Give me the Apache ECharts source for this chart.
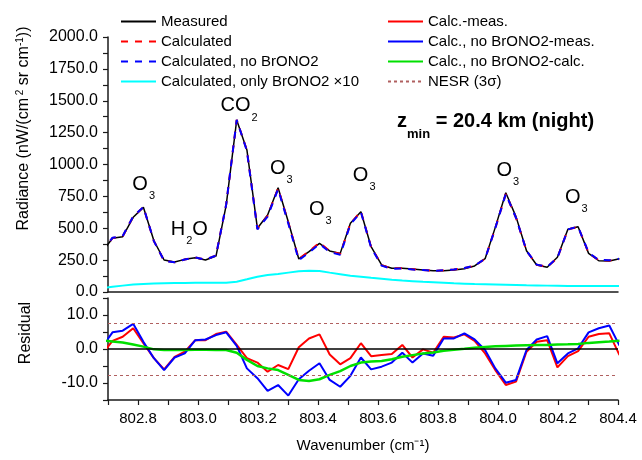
<!DOCTYPE html>
<html>
<head>
<meta charset="utf-8">
<script src="https://cdn.jsdelivr.net/npm/echarts@6/dist/echarts.min.js"></script>
<style>
    html, body { margin: 0; padding: 0; background: #fff; }
    #chart1 { width: 642px; height: 460px; }
</style>
</head>
<body>
<div id="chart1"></div>
<script>
// 光谱数据 (cm-1)
var wavenumber = [802.680, 802.715, 802.749, 802.784, 802.818, 802.853, 802.887, 802.922, 802.956, 802.991,
    803.025, 803.060, 803.094, 803.129, 803.163, 803.198, 803.232, 803.267, 803.301, 803.336,
    803.370, 803.405, 803.439, 803.474, 803.508, 803.543, 803.577, 803.612, 803.646, 803.681,
    803.715, 803.750, 803.784, 803.819, 803.853, 803.888, 803.922, 803.957, 803.991, 804.026,
    804.060, 804.095, 804.129, 804.164, 804.198, 804.233, 804.267, 804.302, 804.336, 804.371, 804.405]
var measured = [314, 421, 434, 586, 664, 402, 251, 235, 256, 269,
    251, 282, 682, 1349, 1114, 500, 604, 818, 551, 259,
    316, 382, 322, 303, 539, 630, 355, 212, 186, 186,
    180, 173, 167, 167, 173, 183, 204, 261, 507, 779,
    591, 324, 212, 194, 272, 492, 512, 303, 245, 243, 260]
var calculated = [312.5, 423.4, 437.6, 592.1, 665.7, 399.3, 245.0, 232.7, 255.2, 271.6,
    253.6, 286.4, 687.1, 1350.2, 1111.3, 496.0, 597.3, 813.3, 545.1, 259.5,
    319.1, 386.3, 320.4, 298.5, 536.3, 631.7, 352.9, 210.2, 184.5, 187.2,
    177.5, 172.9, 165.9, 170.6, 176.4, 187.3, 206.4, 259.7, 500.8, 768.4,
    581.4, 323.2, 214.1, 196.6, 266.6, 489.9, 511.4, 306.6, 249.4, 247.6, 258.2]
var calcNoBr = [314.6, 425.9, 439.4, 593.4, 666.1, 399.3, 244.8, 232.5, 254.7, 271.6,
    253.8, 286.1, 686.9, 1349.9, 1108.3, 491.4, 591.7, 807.4, 537.3, 250.1,
    309.6, 377.8, 312.9, 291.9, 531.1, 627.5, 349.0, 206.8, 182.0, 184.9,
    176.0, 171.7, 165.0, 170.1, 176.1, 187.6, 206.8, 260.7, 501.3, 769.1,
    581.9, 323.7, 214.8, 197.8, 267.8, 490.7, 512.2, 307.9, 251.1, 249.9, 261.0]
var onlyBrX10 = [30, 42, 50, 58, 63, 66, 68, 70, 71, 72,
    72, 73, 73, 81, 100, 120, 134, 141, 152, 162,
    167, 164, 152, 140, 128, 120, 112, 104, 96, 90,
    85, 80, 76, 72, 68, 65, 62, 60, 58, 56,
    54, 52, 51, 50, 49, 48, 48, 47, 47, 47, 47]
// 残差
var resCalcMeas = [-1.5, 2.4, 3.6, 6.1, 1.7, -2.7, -6.0, -2.3, -0.8, 2.6,
    2.6, 4.4, 5.1, 1.2, -2.7, -4.0, -6.7, -4.7, -5.9, 0.5,
    3.1, 4.3, -1.6, -4.5, -2.7, 1.7, -2.1, -1.8, -1.5, 1.2,
    -2.5, -0.1, -1.1, 3.6, 3.4, 4.3, 2.4, -1.3, -6.2, -10.6,
    -9.6, -0.8, 2.1, 2.6, -5.4, -2.1, -0.6, 3.6, 4.4, 4.6, -1.8]
var resNoBrMeas = [0.6, 4.9, 5.4, 7.4, 2.1, -2.7, -6.2, -2.5, -1.3, 2.6,
    2.8, 4.1, 4.9, 0.9, -5.7, -8.6, -12.3, -10.6, -13.7, -8.9,
    -6.4, -4.2, -9.1, -11.1, -7.9, -2.5, -6.0, -5.2, -4.0, -1.1,
    -4.0, -1.3, -2.0, 3.1, 3.1, 4.6, 2.8, -0.3, -5.7, -9.9,
    -9.1, -0.3, 2.8, 3.8, -4.2, -1.3, 0.2, 4.9, 6.1, 6.9, 1.0]
var resNoBrCalc = [2.6, 2.2, 1.9, 1.3, 0.7, -0.1, -0.3, -0.3, -0.3, -0.2,
    -0.2, -0.3, -0.3, -1.1, -3.2, -5.0, -5.7, -6.2, -7.6, -9.1,
    -9.4, -8.9, -7.6, -6.5, -5.0, -4.0, -3.7, -3.5, -3.0, -2.3,
    -1.8, -1.3, -1.0, -0.5, -0.2, 0.1, 0.4, 0.6, 0.8, 0.9,
    1.0, 1.1, 1.2, 1.2, 1.3, 1.4, 1.5, 1.8, 2.0, 2.2, 2.4]
var nesr3sigma = 7.7
// 刻度标签
var xTickLabels = ['802.8', '803.0', '803.2', '803.4', '803.6', '803.8', '804.0', '804.2', '804.4']
var radTickLabels = ['0.0', '250.0', '500.0', '750.0', '1000.0', '1250.0', '1500.0', '1750.0', '2000.0']
var resTickLabels = ['-10.0', '0.0', '10.0']
// 谱线标注
var bandLabels = [
    { text: '{m|O}{s|3}', x: 802.819, y: 847 },
    { text: '{m|H}{s|2}{m|O}', x: 802.971, y: 494 },
    { text: '{m|CO}{s|2}', x: 803.137, y: 1459 },
    { text: '{m|O}{s|3}', x: 803.278, y: 965 },
    { text: '{m|O}{s|3}', x: 803.408, y: 651 },
    { text: '{m|O}{s|3}', x: 803.554, y: 915 },
    { text: '{m|O}{s|3}', x: 804.033, y: 953 },
    { text: '{m|O}{s|3}', x: 804.261, y: 739 }
]

_initChart()

function pairs (ys) {
    return ys.map(function (v, i) { return [wavenumber[i], v] })
}

function _initChart () {
    var font = 'Liberation Sans, Arial, sans-serif'
    var myChart = echarts.init(document.getElementById('chart1'))
    var axisLine = { show: true, onZero: false, lineStyle: { color: '#1a1a1a', width: 1.5 } }
    var axisTick = { show: true, inside: false, length: 5, lineStyle: { color: '#1a1a1a', width: 1.2 } }
    var labelStyle = { color: '#000', fontSize: 15, fontFamily: font }
    var option = {
        animation: false,
        backgroundColor: '#fff',
        title: {
            left: 397,
            top: 109,
            padding: 0,
            text: '{z|z}{m|min}{b| = 20.4 km (night)}',
            textStyle: {
                rich: {
                    z: { fontSize: 20, fontWeight: 'bold', fontFamily: font, color: '#000', lineHeight: 24 },
                    m: { fontSize: 13, fontWeight: 'bold', fontFamily: font, color: '#000', lineHeight: 24, verticalAlign: 'top', padding: [19, 0, 0, 0] },
                    b: { fontSize: 20, fontWeight: 'bold', fontFamily: font, color: '#000', lineHeight: 24 }
                }
            }
        },
        legend: [{
            orient: 'vertical',
            left: 120,
            top: 14,
            padding: 0,
            itemWidth: 35,
            itemHeight: 14,
            itemGap: 5,
            itemStyle: { opacity: 0 },
            textStyle: labelStyle,
            data: ['Measured', 'Calculated', 'Calculated, no BrONO2', 'Calculated, only BrONO2 ×10']
        }, {
            orient: 'vertical',
            left: 387,
            top: 14,
            padding: 0,
            itemWidth: 35,
            itemHeight: 14,
            itemGap: 5,
            itemStyle: { opacity: 0 },
            textStyle: labelStyle,
            data: ['Calc.-meas.', 'Calc., no BrONO2-meas.', 'Calc., no BrONO2-calc.', 'NESR (3σ)']
        }],
        grid: [
            { left: 108, width: 510, top: 37, height: 255 },
            { left: 108, width: 510, top: 298, height: 102 }
        ],
        xAxis: [{
            type: 'value', gridIndex: 0, min: 802.7, max: 804.4, interval: 0.1,
            axisLine: axisLine, axisTick: { show: false }, axisLabel: { show: false }, splitLine: { show: false }
        }, {
            type: 'value', gridIndex: 1, min: 802.7, max: 804.4, interval: 0.1,
            name: 'Wavenumber (cm⁻¹)',
            nameLocation: 'middle',
            nameGap: 38,
            nameTextStyle: labelStyle,
            axisLine: axisLine, axisTick: axisTick, splitLine: { show: false },
            axisLabel: {
                margin: 11,
                color: '#000', fontSize: 15, fontFamily: font,
                formatter: function (v) {
                    var s = v.toFixed(1)
                    return xTickLabels.indexOf(s) >= 0 ? s : ''
                }
            }
        }],
        yAxis: [{
            type: 'value', gridIndex: 0, min: 0, max: 2000, interval: 125,
            name: '{a|Radiance (nW/(cm}{s| 2}{a| sr cm}{s|-1}{a|))}',
            nameLocation: 'middle',
            nameGap: 74,
            nameTextStyle: {
                padding: [0, 0, 0, 72],
                rich: {
                    a: { fontSize: 16, fontFamily: font, color: '#000', lineHeight: 20 },
                    s: { fontSize: 10, fontFamily: font, color: '#000', lineHeight: 20, verticalAlign: 'top', padding: [1, 0, 0, 0] }
                }
            },
            axisLine: axisLine, axisTick: axisTick, splitLine: { show: false },
            axisLabel: {
                margin: 10,
                color: '#000', fontSize: 16, fontFamily: font,
                formatter: function (v) {
                    var s = v.toFixed(1)
                    return radTickLabels.indexOf(s) >= 0 ? s : ''
                }
            }
        }, {
            type: 'value', gridIndex: 1, min: -15, max: 15, interval: 5,
            name: 'Residual',
            nameLocation: 'middle',
            nameGap: 74,
            nameTextStyle: { fontSize: 16, fontFamily: font, color: '#000', padding: [0, 0, 0, 32] },
            axisLine: axisLine, axisTick: axisTick, splitLine: { show: false },
            axisLabel: {
                margin: 10,
                color: '#000', fontSize: 16, fontFamily: font,
                formatter: function (v) {
                    var s = v.toFixed(1)
                    return resTickLabels.indexOf(s) >= 0 ? s : ''
                }
            }
        }],
        series: [
            {
                name: 'Measured', type: 'line', xAxisIndex: 0, yAxisIndex: 0,
                symbol: 'none', color: '#000',
                lineStyle: { color: '#000', width: 1.5 },
                data: pairs(measured),
                markPoint: {
                    symbol: 'circle', symbolSize: 0, silent: true,
                    label: {
                        show: true, position: 'inside',
                        formatter: function (p) { return p.name },
                        rich: {
                            m: { fontSize: 20, fontFamily: font, color: '#000', lineHeight: 24 },
                            s: { fontSize: 11, fontFamily: font, color: '#000', lineHeight: 24, verticalAlign: 'top', padding: [18, 0, 0, 1] }
                        }
                    },
                    data: bandLabels.map(function (b) { return { name: b.text, coord: [b.x, b.y] } })
                }
            },
            {
                name: 'Calculated', type: 'line', xAxisIndex: 0, yAxisIndex: 0,
                symbol: 'none', color: '#ff0000',
                lineStyle: { color: '#ff0000', width: 2, type: [7, 7] },
                data: pairs(calculated)
            },
            {
                name: 'Calculated, no BrONO2', type: 'line', xAxisIndex: 0, yAxisIndex: 0,
                symbol: 'none', color: '#0000ff',
                lineStyle: { color: '#0000ff', width: 2, type: [7, 7] },
                data: pairs(calcNoBr)
            },
            {
                name: 'Calculated, only BrONO2 ×10', type: 'line', xAxisIndex: 0, yAxisIndex: 0,
                symbol: 'none', color: '#00ffff',
                lineStyle: { color: '#00ffff', width: 2 },
                data: pairs(onlyBrX10)
            },
            {
                name: 'Calc.-meas.', type: 'line', xAxisIndex: 1, yAxisIndex: 1,
                symbol: 'none', color: '#ff0000',
                lineStyle: { color: '#ff0000', width: 2 },
                data: pairs(resCalcMeas),
                markLine: {
                    silent: true, symbol: 'none', label: { show: false },
                    lineStyle: { color: '#000', width: 1.5, type: 'solid' },
                    data: [{ yAxis: 0 }]
                }
            },
            {
                name: 'Calc., no BrONO2-meas.', type: 'line', xAxisIndex: 1, yAxisIndex: 1,
                symbol: 'none', color: '#0000ff',
                lineStyle: { color: '#0000ff', width: 2 },
                data: pairs(resNoBrMeas)
            },
            {
                name: 'Calc., no BrONO2-calc.', type: 'line', xAxisIndex: 1, yAxisIndex: 1,
                symbol: 'none', color: '#00e000',
                lineStyle: { color: '#00e000', width: 2.5 },
                data: pairs(resNoBrCalc)
            },
            {
                name: 'NESR (3σ)', type: 'line', xAxisIndex: 1, yAxisIndex: 1,
                symbol: 'none', color: '#b06060',
                lineStyle: { color: '#b06060', width: 1, type: [3, 3] },
                data: [],
                markLine: {
                    silent: true, symbol: 'none', label: { show: false },
                    lineStyle: { color: '#b06060', width: 1, type: [3, 3] },
                    data: [{ yAxis: nesr3sigma }, { yAxis: -nesr3sigma }]
                }
            }
        ]
    }
    myChart.setOption(option)
}
</script>
</body>
</html>
